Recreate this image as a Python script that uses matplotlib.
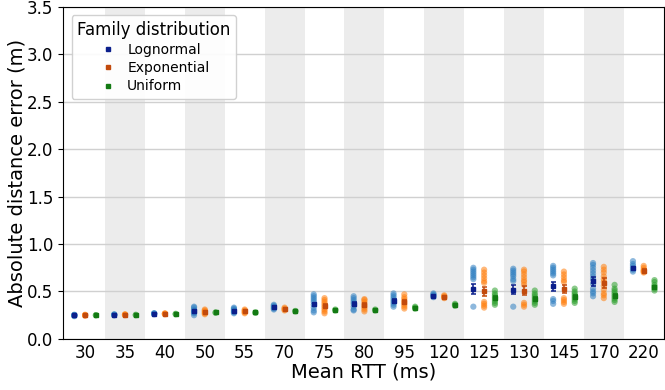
import numpy as np
import matplotlib.pyplot as plt
from matplotlib.lines import Line2D

rtt = ['30', '35', '40', '50', '55', '70', '75', '80', '95', '120', '125', '130', '145', '170', '220']

# per-run errors for each mean RTT
logn_pts = [
    [0.24, 0.245, 0.25, 0.25, 0.255, 0.25],
    [0.25, 0.255, 0.26, 0.255, 0.25],
    [0.26, 0.265, 0.27, 0.27, 0.265],
    [0.25, 0.27, 0.28, 0.29, 0.30, 0.31, 0.33, 0.34],
    [0.27, 0.28, 0.29, 0.30, 0.31, 0.32, 0.33],
    [0.31, 0.32, 0.33, 0.34, 0.35, 0.36],
    [0.28, 0.30, 0.33, 0.36, 0.39, 0.41, 0.43, 0.45, 0.47],
    [0.30, 0.31, 0.34, 0.37, 0.39, 0.41, 0.43, 0.45],
    [0.34, 0.36, 0.38, 0.40, 0.42, 0.44, 0.46, 0.48],
    [0.44, 0.45, 0.46, 0.47, 0.48],
    [0.34, 0.63, 0.65, 0.67, 0.69, 0.71, 0.73, 0.75],
    [0.34, 0.61, 0.63, 0.66, 0.68, 0.70, 0.72, 0.74],
    [0.37, 0.40, 0.42, 0.67, 0.69, 0.71, 0.73, 0.75, 0.77],
    [0.45, 0.48, 0.50, 0.53, 0.58, 0.63, 0.66, 0.69, 0.72, 0.75, 0.78, 0.80],
    [0.71, 0.73, 0.75, 0.77, 0.79, 0.82],
]
expo_pts = [
    [0.245, 0.25, 0.25, 0.255],
    [0.25, 0.255, 0.26, 0.255],
    [0.26, 0.265, 0.265, 0.27],
    [0.26, 0.27, 0.28, 0.29, 0.30, 0.31],
    [0.27, 0.28, 0.29, 0.30, 0.31],
    [0.30, 0.31, 0.32, 0.33],
    [0.27, 0.29, 0.31, 0.33, 0.35, 0.37, 0.39, 0.41, 0.43],
    [0.29, 0.31, 0.33, 0.35, 0.37, 0.39, 0.41, 0.42],
    [0.32, 0.34, 0.36, 0.38, 0.40, 0.42, 0.44, 0.47],
    [0.43, 0.44, 0.45, 0.46],
    [0.33, 0.35, 0.37, 0.39, 0.59, 0.61, 0.64, 0.67, 0.70, 0.73],
    [0.34, 0.36, 0.38, 0.57, 0.60, 0.62, 0.65, 0.68, 0.71, 0.73],
    [0.37, 0.39, 0.41, 0.43, 0.60, 0.62, 0.65, 0.68, 0.71],
    [0.43, 0.46, 0.48, 0.52, 0.56, 0.60, 0.63, 0.66, 0.70, 0.73, 0.76],
    [0.70, 0.71, 0.72, 0.73, 0.75, 0.77],
]
unif_pts = [
    [0.25, 0.25],
    [0.255, 0.25],
    [0.265, 0.26],
    [0.275, 0.28],
    [0.28, 0.275],
    [0.29, 0.295],
    [0.30, 0.31],
    [0.30, 0.31],
    [0.32, 0.33, 0.34],
    [0.35, 0.36, 0.37],
    [0.36, 0.38, 0.40, 0.42, 0.44, 0.46, 0.48, 0.51],
    [0.36, 0.38, 0.40, 0.42, 0.44, 0.46, 0.48, 0.51],
    [0.38, 0.40, 0.42, 0.44, 0.46, 0.48, 0.50, 0.53],
    [0.39, 0.41, 0.43, 0.45, 0.47, 0.49, 0.51, 0.53, 0.57],
    [0.51, 0.53, 0.55, 0.57, 0.60, 0.62],
]

# means and error bar half-widths
logn_mean = [0.25, 0.255, 0.267, 0.29, 0.296, 0.335, 0.363, 0.37, 0.40, 0.455, 0.525, 0.52, 0.553, 0.606, 0.747]
logn_err = [0.003, 0.003, 0.003, 0.012, 0.01, 0.01, 0.02, 0.02, 0.018, 0.01, 0.05, 0.05, 0.045, 0.05, 0.015]
expo_mean = [0.25, 0.255, 0.265, 0.285, 0.29, 0.317, 0.352, 0.36, 0.388, 0.444, 0.50, 0.51, 0.525, 0.59, 0.72]
expo_err = [0.003, 0.003, 0.003, 0.01, 0.01, 0.008, 0.02, 0.02, 0.018, 0.01, 0.045, 0.045, 0.04, 0.05, 0.012]
unif_mean = [0.25, 0.255, 0.265, 0.28, 0.28, 0.293, 0.307, 0.307, 0.328, 0.36, 0.43, 0.42, 0.44, 0.455, 0.546]
unif_err = [0.002, 0.002, 0.002, 0.003, 0.003, 0.003, 0.004, 0.004, 0.005, 0.006, 0.02, 0.02, 0.02, 0.02, 0.015]

families = [
    ('Lognormal', logn_pts, logn_mean, logn_err, '#2f7fc1', '#0b1f8c', -0.27),
    ('Exponential', expo_pts, expo_mean, expo_err, '#ff7f0e', '#c24a0c', 0.0),
    ('Uniform', unif_pts, unif_mean, unif_err, '#2ca02c', '#137a13', 0.27),
]

fig = plt.figure(figsize=(6.65, 3.9), dpi=100)
ax = fig.add_axes([0.095, 0.131, 0.903, 0.851])

x = np.arange(len(rtt))
for i in x:
    if i % 2 == 1:
        ax.axvspan(i - 0.5, i + 0.5, color='#ececec', zorder=0, lw=0)

ax.set_axisbelow(True)
ax.yaxis.grid(True, color='#d0d0d0', lw=1)

handles = []
for name, pts, mean, err, c_pt, c_mean, off in families:
    for i, vals in enumerate(pts):
        ax.scatter(np.full(len(vals), i + off), vals, s=20, color=c_pt, alpha=0.55,
                   edgecolors='none', zorder=2)
    ax.errorbar(x + off, mean, yerr=err, fmt='s', ms=3.3, color=c_mean, ecolor=c_mean,
                elinewidth=1.1, capsize=1.8, capthick=1.1, zorder=3)
    handles.append(Line2D([], [], ls='none', marker='s', ms=3, color=c_mean, label=name))

ax.set_xlim(-0.55, 14.5)
ax.set_ylim(0, 3.5)
ax.set_xticks(x)
ax.set_xticklabels(rtt)
ax.set_yticks(np.arange(0, 3.51, 0.5))
ax.tick_params(axis='x', length=0, labelsize=12, pad=4)
ax.tick_params(axis='y', labelsize=12)
ax.set_xlabel('Mean RTT (ms)', fontsize=14, labelpad=0)
ax.set_ylabel('Absolute distance error (m)', fontsize=14, labelpad=0.5)

leg = ax.legend(handles=handles, title='Family distribution', loc='upper left',
                fontsize=10, title_fontsize=12, handlelength=1.5, handletextpad=0.6,
                borderaxespad=0.6, labelspacing=0.3, framealpha=0.9)

fig.savefig('out.png', dpi=100)
